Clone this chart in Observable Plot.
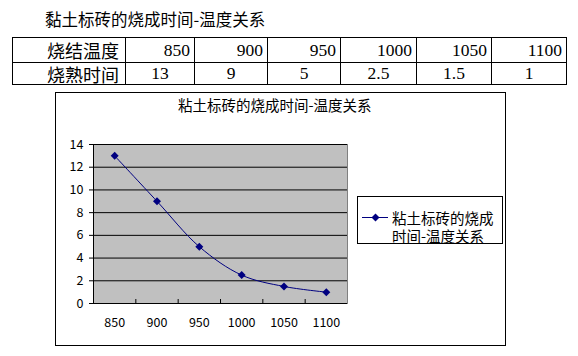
<!DOCTYPE html>
<html><head><meta charset="utf-8">
<script src="https://cdn.jsdelivr.net/npm/d3@7"></script>
<script src="https://cdn.jsdelivr.net/npm/@observablehq/plot@0.6"></script>
<style>
body{margin:0;background:#fff;}
#page{position:relative;width:578px;height:356px;overflow:hidden;font-family:"Noto Sans CJK SC",sans-serif;}
#ttl{position:absolute;left:45px;top:9px;font-size:16.5px;line-height:20px;white-space:nowrap;}
table{position:absolute;left:12px;top:37px;border-collapse:collapse;table-layout:fixed;}
td{border:1px solid #000;padding:0 4px;white-space:nowrap;overflow:visible;}
td.h{font-family:"Noto Sans CJK SC",sans-serif;font-size:18px;text-align:left;padding:0 0 0 34px;line-height:20px;}
td.n{font-family:"Liberation Serif",serif;font-size:17.5px;text-align:right;}
td.m{font-family:"Liberation Serif",serif;font-size:17.5px;text-align:center;}
tr.r1 td{height:24px;}
tr.r2 td{height:21px;}
#chart{position:absolute;left:55px;top:92px;}
#frame{position:absolute;left:55px;top:92px;width:449px;height:252px;border:1px solid #000;pointer-events:none;}
#ctitle{position:absolute;left:178px;top:96px;font-size:14.5px;line-height:18px;white-space:nowrap;}
#legend{position:absolute;left:357px;top:196px;width:144px;height:46px;border:1px solid #000;background:#fff;}
#legend svg{position:absolute;left:0;top:0;}
#legend .t{position:absolute;left:34px;top:12px;font-size:14.5px;line-height:18px;white-space:pre;}
</style></head>
<body><div id="page"></div>
<script>
const tableTitle = "黏土标砖的烧成时间-温度关系";
const rowLabels = ["烧结温度", "烧熟时间"];
const temps = [850, 900, 950, 1000, 1050, 1100];
const times = [13, 9, 5, 2.5, 1.5, 1];
const timeLabels = ["13", "9", "5", "2.5", "1.5", "1"];
const yTicks = [0, 2, 4, 6, 8, 10, 12, 14];
const chartTitle = "粘土标砖的烧成时间-温度关系";
const legendLines = ["粘土标砖的烧成", "时间-温度关系"];
const colWidths = [113, 69, 73, 73, 76, 75, 75];

const page = document.getElementById("page");
const t = document.createElement("div"); t.id = "ttl"; t.textContent = tableTitle; page.appendChild(t);

const tbl = document.createElement("table");
const cg = document.createElement("colgroup");
colWidths.forEach(w => { const c = document.createElement("col"); c.style.width = w + "px"; cg.appendChild(c); });
tbl.appendChild(cg);
const r1 = document.createElement("tr"); r1.className = "r1";
const r2 = document.createElement("tr"); r2.className = "r2";
let c = document.createElement("td"); c.className = "h"; c.textContent = rowLabels[0]; r1.appendChild(c);
temps.forEach(v => { const d = document.createElement("td"); d.className = "n"; d.textContent = v; r1.appendChild(d); });
c = document.createElement("td"); c.className = "h"; c.textContent = rowLabels[1]; r2.appendChild(c);
timeLabels.forEach(v => { const d = document.createElement("td"); d.className = "m"; d.textContent = v; r2.appendChild(d); });
tbl.appendChild(r1); tbl.appendChild(r2);
page.appendChild(tbl);

const data = temps.map((x, i) => ({x, y: times[i]}));
const step = temps[1] - temps[0];
const bounds = d3.pairs(temps).map(([a, b]) => (a + b) / 2);

const chart = Plot.plot({
  width: 451, height: 254,
  marginLeft: 38, marginTop: 52, marginRight: 159, marginBottom: 43,
  x: {type: "linear", domain: [temps[0] - step / 2, temps[temps.length - 1] + step / 2]},
  y: {domain: [0, 14]},
  style: {fontFamily: "'Noto Sans CJK SC', sans-serif", fontSize: "12.5px", color: "#000", background: "transparent"},
  marks: [
    Plot.frame({fill: "#c0c0c0", stroke: "#808080"}),
    Plot.gridY(yTicks, {stroke: "#000", strokeOpacity: 1}),
    Plot.axisY(yTicks, {tickSize: 4, tickPadding: 6, label: null, anchor: "left"}),
    Plot.axisX(temps, {tickSize: 0, tickPadding: 15, label: null, tickFormat: d => String(d)}),
    Plot.ruleX(bounds, {y1: 0, y2: 0.35, stroke: "#000"}),
    Plot.ruleY([0], {stroke: "#000"}),
    Plot.ruleX([temps[0] - step / 2], {stroke: "#000"}),
    Plot.line(data, {x: "x", y: "y", stroke: "#000080", strokeWidth: 1, curve: "catmull-rom"}),
    Plot.dot(data, {x: "x", y: "y", symbol: "diamond2", r: 3.6, fill: "#000080", stroke: "none"})
  ]
});
chart.id = "chart";
page.appendChild(chart);

const fr = document.createElement("div"); fr.id = "frame"; page.appendChild(fr);
const ct = document.createElement("div"); ct.id = "ctitle"; ct.textContent = chartTitle; page.appendChild(ct);

const lg = document.createElement("div"); lg.id = "legend";
const sample = Plot.plot({
  width: 34, height: 30, margin: 0,
  x: {domain: [0, 34], axis: null}, y: {domain: [30, 0], axis: null},
  style: {background: "transparent"},
  marks: [
    Plot.ruleY([{y: 20}], {x1: 4, x2: 30, y: "y", stroke: "#000080"}),
    Plot.dot([{x: 17, y: 20}], {x: "x", y: "y", symbol: "diamond2", r: 3.6, fill: "#000080", stroke: "none"})
  ]
});
lg.appendChild(sample);
const lt = document.createElement("div"); lt.className = "t"; lt.textContent = legendLines.join("\n"); lg.appendChild(lt);
page.appendChild(lg);
</script></body></html>
